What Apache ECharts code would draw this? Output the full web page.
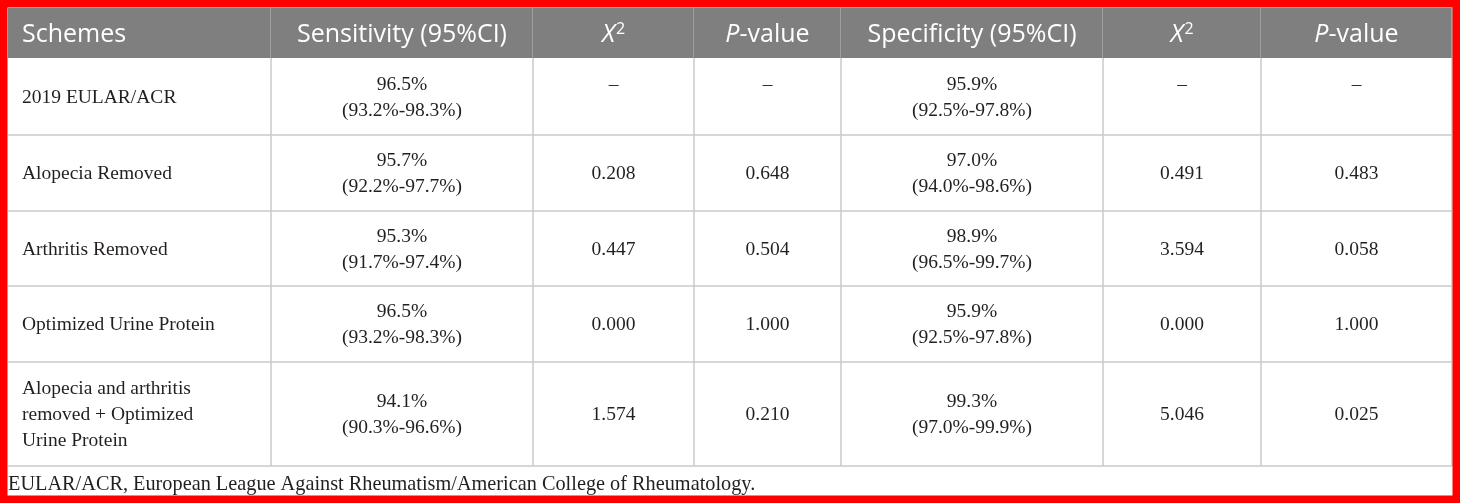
<!DOCTYPE html>
<html>
<head>
    <meta charset="utf-8">
    <title>Schemes table</title>
    <script src="https://cdn.jsdelivr.net/npm/echarts@6/dist/echarts.min.js"></script>
    <style>
        html, body { margin: 0; padding: 0; background: #fff; }
        #table_chart { width: 1460px; height: 503px; }
    </style>
</head>
<body>
    <div id="table_chart"></div>
    <script type="text/javascript">
        // table content
        var headers = ['Schemes', 'Sensitivity (95%CI)', 'X2', 'P-value', 'Specificity (95%CI)', 'X2', 'P-value'];
        var schemes = ['2019 EULAR/ACR', 'Alopecia Removed', 'Arthritis Removed', 'Optimized Urine Protein',
            'Alopecia and arthritis\nremoved + Optimized\nUrine Protein'];
        var sensitivity = ['96.5%', '95.7%', '95.3%', '96.5%', '94.1%'];
        var sensitivityCI = ['93.2%-98.3%', '92.2%-97.7%', '91.7%-97.4%', '93.2%-98.3%', '90.3%-96.6%'];
        var chiSens = ['–', '0.208', '0.447', '0.000', '1.574'];
        var pSens = ['–', '0.648', '0.504', '1.000', '0.210'];
        var specificity = ['95.9%', '97.0%', '98.9%', '95.9%', '99.3%'];
        var specificityCI = ['92.5%-97.8%', '94.0%-98.6%', '96.5%-99.7%', '92.5%-97.8%', '97.0%-99.9%'];
        var chiSpec = ['–', '0.491', '3.594', '0.000', '5.046'];
        var pSpec = ['–', '0.483', '0.058', '1.000', '0.025'];
        var footnote = 'EULAR/ACR, European League Against Rheumatism/American College of Rheumatology.';

        // layout (pixel units of the grid)
        var colWidths = [263, 262, 161, 147, 262, 158, 191];
        var rowHeights = [50, 77, 76, 75, 76, 104];

        function cumulate(arr) {
            var out = [0];
            arr.forEach(function (v, i) { out.push(out[i] + v); });
            return out;
        }
        var colEdges = cumulate(colWidths);
        var rowEdges = cumulate(rowHeights);

        var HEAD_FONT = '"Open Sans", "Noto Sans", sans-serif';
        var BODY_FONT = '"Liberation Serif", "DejaVu Serif", serif';

        // build cell list [col, row, text]
        var cells = [];
        headers.forEach(function (h, c) { cells.push([c, 0, h]); });
        schemes.forEach(function (s, i) {
            var r = i + 1;
            var pad = i === 0 ? '\n ' : '';
            cells.push([0, r, s]);
            cells.push([1, r, sensitivity[i] + '\n(' + sensitivityCI[i] + ')']);
            cells.push([2, r, chiSens[i] + pad]);
            cells.push([3, r, pSens[i] + pad]);
            cells.push([4, r, specificity[i] + '\n(' + specificityCI[i] + ')']);
            cells.push([5, r, chiSpec[i] + pad]);
            cells.push([6, r, pSpec[i] + pad]);
        });

        function headerText(t) {
            if (t === 'X2') return '{i|X}{sup|2}';
            if (t === 'P-value') return '{i|P}{n|-value}';
            return '{n|' + t + '}';
        }

        function renderCell(params, api) {
            var c = api.value(0), r = api.value(1);
            var text = cells[params.dataIndex][2];
            var p0 = api.coord([colEdges[c], rowEdges[r]]);
            var p1 = api.coord([colEdges[c + 1], rowEdges[r + 1]]);
            var x0 = p0[0], y0 = p0[1], x1 = p1[0], y1 = p1[1];
            var children = [];
            var isHead = r === 0;
            if (isHead) {
                children.push({ type: 'rect', shape: { x: x0, y: y0, width: x1 - x0, height: y1 - y0 },
                    style: { fill: '#7f7f7f' } });
            }
            var lineColor = isHead ? '#a9a9a9' : '#cacaca';
            children.push({ type: 'line', shape: { x1: x1, y1: y0, x2: x1, y2: y1 },
                style: { stroke: lineColor, lineWidth: 1.5 } });
            if (!isHead) {
                children.push({ type: 'line', shape: { x1: x0, y1: y1, x2: x1, y2: y1 },
                    style: { stroke: '#cacaca', lineWidth: 1.5 } });
            }
            var left = c === 0;
            var tx = left ? x0 + 14 : (x0 + x1) / 2;
            if (isHead) {
                children.push({ type: 'text', z2: 10, style: {
                    text: headerText(text), x: tx, y: (y0 + y1) / 2 + 2,
                    align: left ? 'left' : 'center', verticalAlign: 'middle',
                    rich: {
                        n: { fontFamily: HEAD_FONT, fontSize: 25, fill: '#fff' },
                        i: { fontFamily: HEAD_FONT, fontSize: 25, fontStyle: 'italic', fill: '#fff' },
                        sup: { fontFamily: HEAD_FONT, fontSize: 16, fill: '#fff', verticalAlign: 'top', padding: [0, 0, 12, 1] }
                    }
                } });
            } else {
                children.push({ type: 'text', z2: 10, style: {
                    text: text, x: tx, y: (y0 + y1) / 2 + 1,
                    align: left ? 'left' : 'center', verticalAlign: 'middle',
                    fontFamily: BODY_FONT, fontSize: 19.5, lineHeight: 26, fill: '#231f20'
                } });
            }
            return { type: 'group', children: children };
        }

        var table_chart = echarts.init(document.getElementById('table_chart'), null, { renderer: 'canvas' });
        table_chart.setOption({
            backgroundColor: '#fff',
            animation: false,
            title: {
                text: footnote, left: 8, top: 475, padding: 0,
                textStyle: { fontFamily: BODY_FONT, fontSize: 20.3, fontWeight: 'normal', color: '#231f20' }
            },
            grid: { left: 8, top: 8, width: colEdges[colEdges.length - 1], height: rowEdges[rowEdges.length - 1] },
            xAxis: { type: 'value', min: 0, max: colEdges[colEdges.length - 1], show: false },
            yAxis: { type: 'value', min: 0, max: rowEdges[rowEdges.length - 1], inverse: true, show: false },
            series: [{
                type: 'custom',
                renderItem: renderCell,
                data: cells.map(function (d) { return [d[0], d[1]]; }),
                silent: true
            }],
            graphic: [{
                type: 'rect', z: 100, silent: true,
                shape: { x: 3.5, y: 3.5, width: 1453, height: 496 },
                style: { fill: null, stroke: '#ff0000', lineWidth: 8 }
            }]
        });
    </script>
</body>
</html>
